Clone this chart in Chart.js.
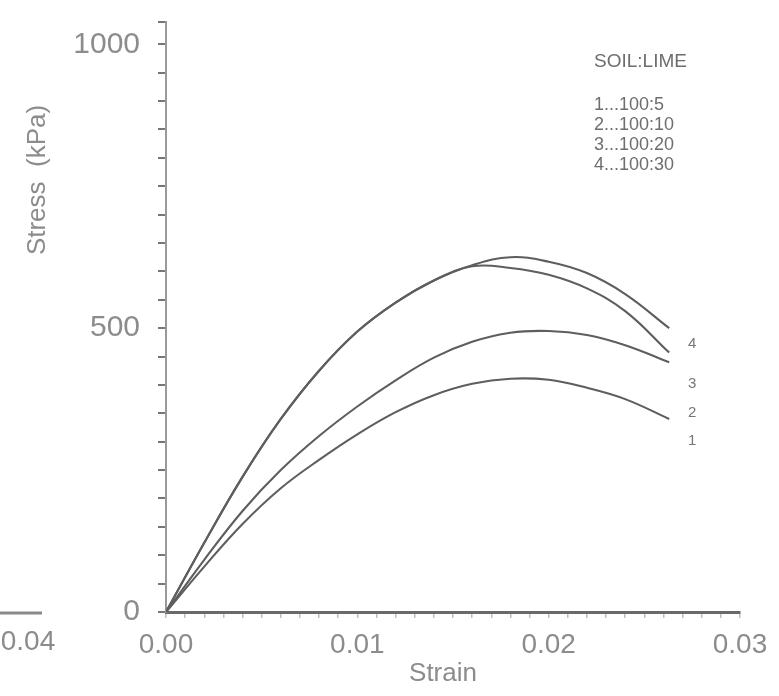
<!DOCTYPE html>
<html>
<head>
<meta charset="utf-8">
<script src="https://cdn.jsdelivr.net/npm/chart.js@4.4.1/dist/chart.umd.min.js"></script>
<style>
  html, body { margin: 0; padding: 0; background: #fff; }
  #wrap { width: 779px; height: 696px; position: relative; }
</style>
</head>
<body>
<div id="wrap"><canvas id="stressChart" width="779" height="696"></canvas></div>
<script>
// Strain values shared by all four curves
const strain = [0, 0.002, 0.004, 0.006, 0.008, 0.010, 0.012, 0.014, 0.016, 0.018, 0.020, 0.022, 0.024, 0.0263];

// Stress (kPa) for each soil:lime mix
const stress1 = [0, 80, 155, 218, 268, 313, 352, 382, 402, 411, 409, 395, 375, 340];
const stress2 = [0, 92, 178, 250, 310, 362, 408, 448, 476, 492, 495, 488, 470, 440];
const stress3 = [0, 122, 238, 340, 425, 494, 545, 584, 609, 606, 594, 570, 530, 457];
const stress4 = [0, 122, 238, 340, 425, 494, 545, 584, 611, 625, 617, 597, 560, 500];

const curveNames = ['1', '2', '3', '4'];
const mixRatios = ['100:5', '100:10', '100:20', '100:30'];
const legendTitle = 'SOIL:LIME';

const xTickLabels = [0, 0.01, 0.02, 0.03];
const yTickLabels = [0, 500, 1000];

const textGray = '#8c8c8c';
const lineGray = '#5e5e5e';
const fontFamily = '"Liberation Sans", Arial, sans-serif';

function toPoints(ys) {
    return strain.map((s, i) => ({ x: s, y: ys[i] }));
}

// Curve numbers at the right end, legend box and axis titles
const annotations = {
    id: 'annotations',
    afterDraw(chart) {
        const ctx = chart.ctx;
        const xs = chart.scales.x;
        const ys = chart.scales.y;
        ctx.save();

        // curve numbers beside the line ends
        const tags = [
            { text: '4', stress: 473 },
            { text: '3', stress: 402 },
            { text: '2', stress: 350 },
            { text: '1', stress: 302 }
        ];
        ctx.fillStyle = '#777';
        ctx.font = '15px ' + fontFamily;
        ctx.textAlign = 'center';
        ctx.textBaseline = 'middle';
        tags.forEach(t => {
            ctx.fillText(t.text, xs.getPixelForValue(0.0275), ys.getPixelForValue(t.stress));
        });

        // legend
        ctx.fillStyle = '#6e6e6e';
        ctx.textAlign = 'left';
        ctx.font = '19px ' + fontFamily;
        ctx.fillText(legendTitle, 594, 62);
        ctx.font = '18px ' + fontFamily;
        curveNames.forEach((n, i) => {
            ctx.fillText(n + '...' + mixRatios[i], 594, 105 + i * 20);
        });

        // axis titles
        ctx.fillStyle = textGray;
        ctx.font = '26px ' + fontFamily;
        ctx.textAlign = 'center';
        ctx.fillText('Strain', 443, 674);
        ctx.save();
        ctx.translate(38, 180);
        ctx.rotate(-Math.PI / 2);
        ctx.fillText('Stress  (kPa)', 0, 0);
        ctx.restore();

        // edge of the neighbouring axis on the left
        ctx.strokeStyle = '#8a8a8a';
        ctx.lineWidth = 3;
        ctx.beginPath();
        ctx.moveTo(0, 613);
        ctx.lineTo(42, 613);
        ctx.stroke();
        ctx.font = '28px ' + fontFamily;
        ctx.fillText('0.04', 28, 642);

        ctx.restore();
    }
};

const datasets = [stress1, stress2, stress3, stress4].map((ys, i) => ({
    label: curveNames[i],
    data: toPoints(ys),
    borderColor: lineGray,
    borderWidth: 2.1,
    pointRadius: 0,
    fill: false,
    tension: 0.4
}));

const ctx = document.getElementById('stressChart').getContext('2d');
new Chart(ctx, {
    type: 'line',
    data: { datasets: datasets },
    options: {
        responsive: false,
        animation: false,
        layout: { padding: { left: 0, top: 5, right: 39, bottom: 0 } },
        plugins: {
            legend: { display: false },
            tooltip: { enabled: false }
        },
        scales: {
            x: {
                type: 'linear',
                min: 0,
                max: 0.03,
                afterFit(scale) { scale.height = 84; },
                ticks: {
                    stepSize: 0.001,
                    autoSkip: false,
                    maxRotation: 0,
                    padding: 10,
                    color: textGray,
                    font: { family: fontFamily, size: 28 },
                    callback: (v) => {
                        const k = Math.round(v * 1000);
                        return xTickLabels.some(t => Math.round(t * 1000) === k) ? (k / 1000).toFixed(2) : '';
                    }
                },
                grid: {
                    drawOnChartArea: false,
                    tickLength: 6,
                    tickColor: '#bdbdbd',
                    lineWidth: 1.5
                },
                border: { display: true, color: '#6a6a6a', width: 3 }
            },
            y: {
                type: 'linear',
                min: 0,
                max: 1040,
                afterFit(scale) { scale.width = 166; },
                ticks: {
                    stepSize: 50,
                    autoSkip: false,
                    padding: 18,
                    color: textGray,
                    font: (c) => ({ family: fontFamily, size: yTickLabels.includes(c.tick && c.tick.value) ? 30 : 6 }),
                    callback: (v) => yTickLabels.includes(v) ? String(v) : ''
                },
                grid: {
                    drawOnChartArea: false,
                    tickLength: 8,
                    tickColor: '#777',
                    lineWidth: 2
                },
                border: { display: true, color: '#999', width: 2 }
            }
        }
    },
    plugins: [annotations]
});
</script>
</body>
</html>
